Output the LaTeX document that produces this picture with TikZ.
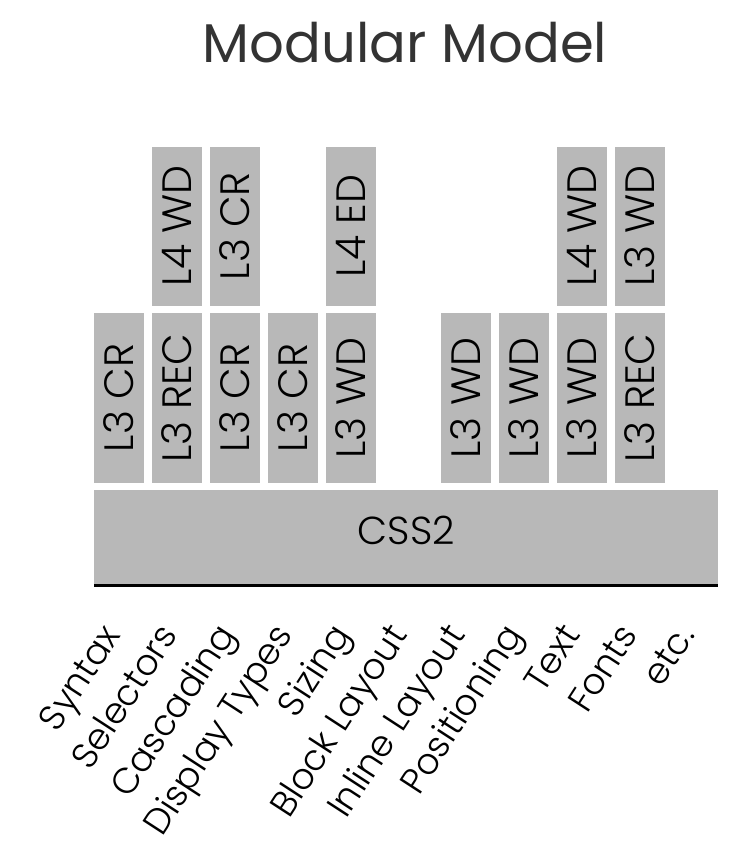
\documentclass[tikz,border=0pt]{standalone}
\usepackage{fontspec}
\setmainfont{Poppins}
\newfontfamily\thinfont{Poppins Light}
\usetikzlibrary{positioning}
\definecolor{boxgray}{HTML}{B8B8B8}
\definecolor{titlegray}{HTML}{333333}

\begin{document}
\begin{tikzpicture}[x=1pt,y=1pt,
            node distance = 7.5pt,
            spec/.style = {fill=boxgray,inner sep=0pt,minimum width=50pt,
                font=\thinfont\fontsize{41}{48}\selectfont},
            low/.style = {spec,minimum height=170pt},
            high/.style = {spec,minimum height=159pt},
            topic/.style = {anchor=base east,rotate=57,inner sep=0pt,
                font=\thinfont\fontsize{36}{42}\selectfont}]
            \useasboundingbox (0,0) rectangle (733,-847);
            \node[font=\fontsize{54.5}{62}\selectfont,text=titlegray,anchor=base]
                (title) at (405,-62) {Modular Model};
            % level 3 row
            \node[low] (l1) at (119,-398) {\rotatebox{90}{L3 CR}};
            \node[low,right=of l1] (l2) {\rotatebox{90}{L3 REC}};
            \node[low,right=of l2] (l3) {\rotatebox{90}{L3 CR}};
            \node[low,right=of l3] (l4) {\rotatebox{90}{L3 CR}};
            \node[low,right=of l4] (l5) {\rotatebox{90}{L3 WD}};
            \node[low,right=65pt of l5] (l7) {\rotatebox{90}{L3 WD}};
            \node[low,right=of l7] (l8) {\rotatebox{90}{L3 WD}};
            \node[low,right=of l8] (l9) {\rotatebox{90}{L3 WD}};
            \node[low,right=of l9] (l10) {\rotatebox{90}{L3 REC}};
            % next level row
            \node[high,above=7pt of l2] (u2) {\rotatebox{90}{L4 WD}};
            \node[high,above=7pt of l3] (u3) {\rotatebox{90}{L3 CR}};
            \node[high,above=7pt of l5] (u5) {\rotatebox{90}{L4 ED}};
            \node[high,above=7pt of l9] (u9) {\rotatebox{90}{L4 WD}};
            \node[high,above=7pt of l10] (u10) {\rotatebox{90}{L3 WD}};
            % CSS2 base
            \node[spec,anchor=north west,minimum width=624pt,minimum height=95pt,
                text depth=14pt,font=\thinfont\fontsize{39}{44}\selectfont]
                (css) at (94,-490) {CSS2};
            \draw[line width=3pt] (css.south west) -- (css.south east);
            % modules
            \foreach \name [count=\i] in {Syntax,Selectors,Cascading,Display Types,
                Sizing,Block Layout,Inline Layout,Positioning,Text,Fonts,etc.}
                \node[topic] (m\i) at (121.5+57.5*\i-57.5,-635) {\name};
\end{tikzpicture}
\end{document}
